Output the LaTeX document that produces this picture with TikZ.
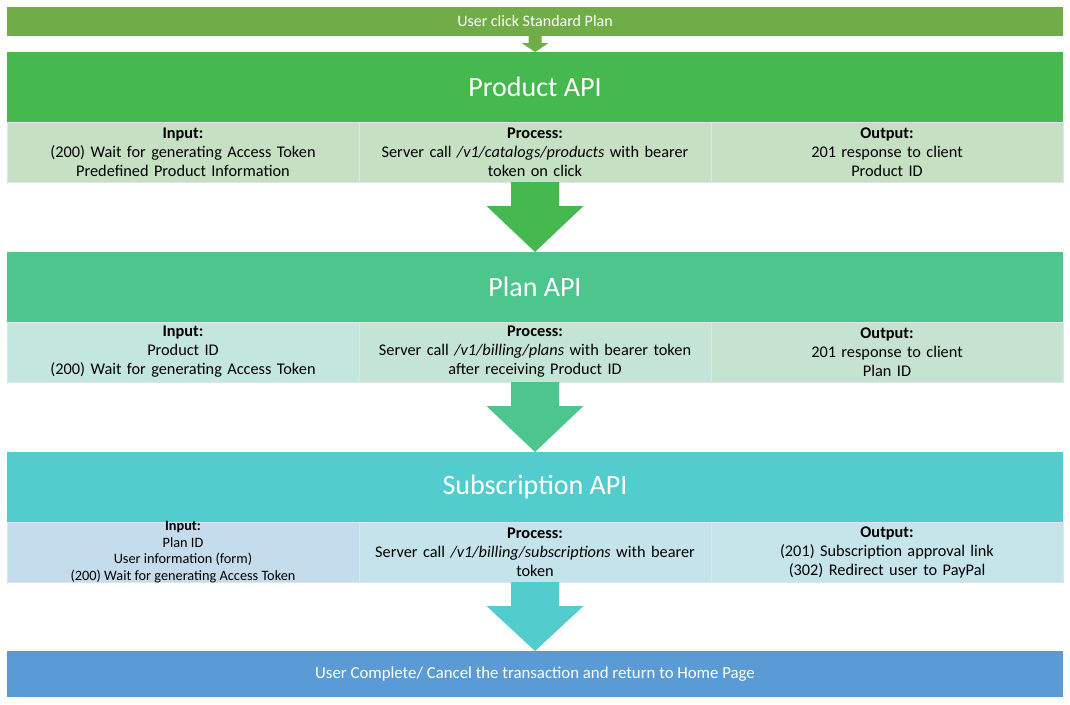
\documentclass[tikz,border=0pt]{standalone}
\usepackage{fontspec}
\setmainfont{Carlito}
\usetikzlibrary{calc}
\definecolor{topgreen}{HTML}{70AD47}
\definecolor{prodgreen}{HTML}{45B94F}
\definecolor{prodcell}{HTML}{C5E0C3}
\definecolor{plangreen}{HTML}{4CC68D}
\definecolor{planin}{HTML}{C3E7DE}
\definecolor{planproc}{HTML}{C4E5D6}
\definecolor{planout}{HTML}{C5E3D0}
\definecolor{subteal}{HTML}{53CCCD}
\definecolor{subin}{HTML}{C4DCEC}
\definecolor{subproc}{HTML}{C4E3EA}
\definecolor{subout}{HTML}{C6E5EB}
\definecolor{bottomblue}{HTML}{5B9BD5}
\definecolor{cellline}{HTML}{DCE6EC}
\begin{document}
\begin{tikzpicture}[x=1pt,y=-1pt,
  bar/.style={rectangle, inner sep=0pt, outer sep=0pt, anchor=north west, text=white, minimum width=1056pt},
  header/.style={bar, minimum height=70pt, font=\fontsize{28}{32}\selectfont},
  cell/.style={rectangle, inner sep=0pt, outer sep=0pt, anchor=north west, draw=cellline, line width=0.8pt,
    minimum height=60pt, minimum width=352pt, text width=350pt, align=center, text=black,
    font=\fontsize{16.3}{19}\selectfont}
]
\useasboundingbox (0,0) rectangle (1070,704);
% top bar
\node[bar, fill=topgreen, minimum height=29pt, font=\fontsize{16}{18}\selectfont] (top) at (7,7) {User click Standard Plan};
% Product API
\node[header, fill=prodgreen] (prod) at (7,52) {Product API};
\node[cell, fill=prodcell] (pin) at (7,122) {\textbf{Input:}\\(200) Wait for generating Access Token\\Predefined Product Information};
\node[cell, fill=prodcell] (pproc) at (359,122) {\textbf{Process:}\\Server call \textit{/v1/catalogs/products} with bearer\\token on click};
\node[cell, fill=prodcell] (pout) at (711,122) {\textbf{Output:}\\201 response to client\\Product ID};
% Plan API
\node[header, fill=plangreen] (plan) at (7,252) {Plan API};
\node[cell, fill=planin] (lin) at (7,322) {\textbf{Input:}\\Product ID\\(200) Wait for generating Access Token};
\node[cell, fill=planproc] (lproc) at (359,322) {\textbf{Process:}\\Server call \textit{/v1/billing/plans} with bearer token\\after receiving Product ID};
\node[cell, fill=planout] (lout) at (711,322) {\textbf{Output:}\\201 response to client\\Plan ID};
% Subscription API
\node[header, fill=subteal] (sub) at (7,452) {Subscription API};
\node[cell, fill=subin] (sin) at (7,522) {};
\node[align=center, inner sep=0pt, font=\fontsize{14.3}{16.5}\selectfont] (sintext) at (sin.center) {\textbf{Input:}\\Plan ID\\User information (form)\\(200) Wait for generating Access Token};
\node[cell, fill=subproc] (sproc) at (359,522) {\textbf{Process:}\\Server call \textit{/v1/billing/subscriptions} with bearer\\token};
\node[cell, fill=subout] (sout) at (711,522) {\textbf{Output:}\\(201) Subscription approval link\\(302) Redirect user to PayPal};
% bottom bar
\node[bar, fill=bottomblue, minimum height=46pt, font=\fontsize{16.8}{19}\selectfont] (bottom) at (7,651) {User Complete/ Cancel the transaction and return to Home Page};
% small arrow
\fill[topgreen] ($(top.south)+(-6.5,0)$) -- ($(top.south)+(6.5,0)$) -- ($(top.south)+(6.5,7)$) -- ($(top.south)+(13.5,7)$)
  -- (prod.north) -- ($(top.south)+(-13.5,7)$) -- ($(top.south)+(-6.5,7)$) -- cycle;
% big arrows
\foreach \a/\b/\c in {pproc/plan/prodgreen, lproc/sub/plangreen, sproc/bottom/subteal}{
  \fill[\c] ($(\a.south)+(-24,0)$) -- ($(\a.south)+(24,0)$) -- ($(\a.south)+(24,24)$) -- ($(\a.south)+(48.5,24)$)
    -- (\b.north) -- ($(\a.south)+(-48.5,24)$) -- ($(\a.south)+(-24,24)$) -- cycle;
}
\end{tikzpicture}
\end{document}
